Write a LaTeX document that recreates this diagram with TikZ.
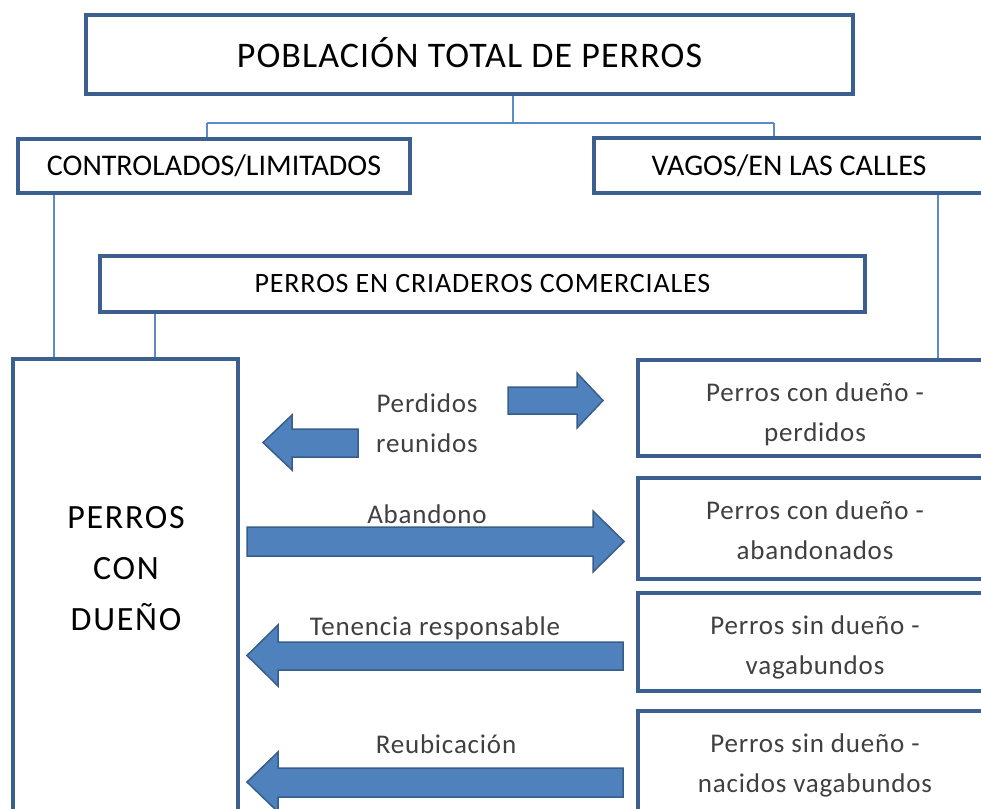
\documentclass[tikz,border=0pt]{standalone}
\usepackage{fontspec}
\setmainfont{Carlito}
\newfontfamily\spfont[LetterSpace=3]{Carlito}
\newfontfamily\spbfont[LetterSpace=5]{Carlito}
\definecolor{boxblue}{HTML}{3B5F8F}
\definecolor{lineblue}{HTML}{5B8BC9}
\definecolor{arrfill}{HTML}{4F81BD}
\definecolor{arrdraw}{HTML}{385D8A}
\definecolor{labgray}{HTML}{404040}
\tikzset{
  hbox/.style={draw=boxblue, line width=3.5pt, fill=white, inner sep=0pt, align=center},
  conn/.style={draw=lineblue, line width=2pt},
  barrow/.style={fill=arrfill, draw=arrdraw, line width=1.5pt, line join=miter},
  lab/.style={text=labgray, align=center, inner sep=0pt, font=\spfont\fontsize{27}{40}\selectfont},
  rtext/.style={text=labgray, align=center, inner sep=0pt, font=\spfont\fontsize{27}{40}\selectfont}
}
\begin{document}
\begin{tikzpicture}[x=1pt,y=-1pt]
\useasboundingbox (0,0) rectangle (981,808);
\clip (0,0) rectangle (981,808);
% header boxes
\node[hbox, minimum width=767pt, minimum height=79pt, font=\spfont\fontsize{36}{40}\selectfont] (title) at (469.5,54.5) {\raisebox{4pt}{POBLACIÓN TOTAL DE PERROS}};
\node[hbox, minimum width=392pt, minimum height=54pt, font=\fontsize{30}{34}\selectfont] (ctrl) at (214,166) {\raisebox{-1pt}{CONTROLADOS/LIMITADOS}};
\node[hbox, minimum width=390pt, minimum height=55pt, font=\fontsize{30}{34}\selectfont] (vagos) at (789,165.5) {\raisebox{-1pt}{VAGOS/EN LAS CALLES}};
\node[hbox, minimum width=765pt, minimum height=56pt, font=\spfont\fontsize{28}{32}\selectfont] (criad) at (482.5,284) {\raisebox{-3pt}{PERROS EN CRIADEROS COMERCIALES}};
% main box
\node[hbox, minimum width=225pt, minimum height=481pt] (dueno) at (125.5,599.5) {};
\node[align=center, inner sep=0pt, font=\spbfont\fontsize{34}{51}\selectfont] (duenotext) at (126,569) {PERROS\\CON\\DUEÑO};
% right boxes
\node[hbox, minimum width=354pt, minimum height=96pt,
  label={[rtext,yshift=-6pt]center:{Perros con dueño -\\perdidos}}] (r1) at (815,408) {};
\node[hbox, minimum width=354pt, minimum height=101pt,
  label={[rtext,yshift=-2pt]center:{Perros con dueño -\\abandonados}}] (r2) at (815,528.5) {};
\node[hbox, minimum width=354pt, minimum height=98pt,
  label={[rtext,yshift=-5pt]center:{Perros sin dueño -\\vagabundos}}] (r3) at (815,642) {};
\node[hbox, minimum width=354pt, minimum height=104pt,
  label={[rtext,yshift=-2pt]center:{Perros sin dueño -\\nacidos vagabundos}}] (r4) at (815,763) {};
% connectors
\coordinate (split) at ([xshift=43.5pt]title.south |- 0,123);
\draw[conn] ([xshift=43.5pt]title.south) -- ([xshift=43.5pt]title.south |- split)
  ([xshift=-7pt]ctrl.north |- split) -- ([xshift=-15pt]vagos.north |- split);
\draw[conn] ([xshift=-7pt]ctrl.north |- split) -- ([xshift=-7pt]ctrl.north);
\draw[conn] ([xshift=-15pt]vagos.north |- split) -- ([xshift=-15pt]vagos.north);
\draw[conn] ([xshift=38pt]ctrl.south west) -- ([xshift=38pt]ctrl.south west |- dueno.north);
\draw[conn] ([xshift=346pt]vagos.south west) -- ([xshift=346pt]vagos.south west |- r1.north);
\draw[conn] ([xshift=57pt]criad.south west) -- ([xshift=57pt]criad.south west |- dueno.north);
% block arrows
\draw[barrow] (508,387) -- (577,387) -- (577,373) -- (603,400.5) -- (577,428) -- (577,414) -- (508,414) -- cycle;
\draw[barrow] (358,429) -- (292,429) -- (292,415) -- (263,442.5) -- (292,470) -- (292,457) -- (358,457) -- cycle;
\draw[barrow] (247,527) -- (593,527) -- (593,511) -- (624,541.5) -- (593,572) -- (593,556) -- (247,556) -- cycle;
\draw[barrow] (623,642) -- (278,642) -- (278,625) -- (247,655.5) -- (278,686) -- (278,670) -- (623,670) -- cycle;
\draw[barrow] (623,768) -- (278,768) -- (278,752) -- (247,782) -- (278,812) -- (278,797) -- (623,797) -- cycle;
% labels
\node[lab] (lperd) at (427,423) {Perdidos\\reunidos};
\node[lab] (laban) at (427,514) {Abandono};
\node[lab] (lten) at (435,628) {Tenencia responsable};
\node[lab] (lreub) at (446,744) {Reubicación};
\end{tikzpicture}
\end{document}
